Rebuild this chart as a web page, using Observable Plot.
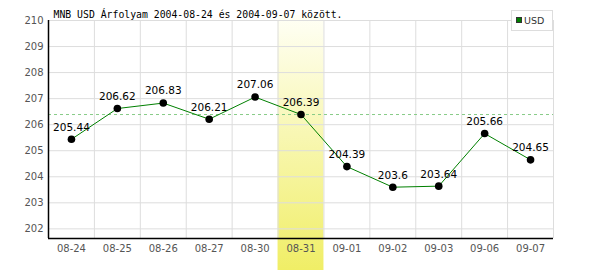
<!DOCTYPE html>
<html>
<head>
<meta charset="utf-8">
<script src="https://cdn.jsdelivr.net/npm/d3@7"></script>
<script src="https://cdn.jsdelivr.net/npm/@observablehq/plot@0.6"></script>
<style>
  html, body { margin: 0; padding: 0; background: #fff; }
  #chart { position: relative; width: 600px; height: 270px; }
</style>
</head>
<body>
<div id="chart"></div>
<script>
const dates = ["08-24","08-25","08-26","08-27","08-30","08-31","09-01","09-02","09-03","09-06","09-07"];
const rates = [205.44, 206.62, 206.83, 206.21, 207.06, 206.39, 204.39, 203.6, 203.64, 205.66, 204.65];
const yTicks = [202, 203, 204, 205, 206, 207, 208, 209, 210];
const highlightDate = "08-31";
const titleText = "MNB USD Árfolyam 2004-08-24 és 2004-09-07 között.";
const seriesName = "USD";

const data = dates.map((d, i) => ({i, d, v: rates[i]}));
const hi = dates.indexOf(highlightDate);
const yMin = 201.63, yMax = 210.0;

const plot = Plot.plot({
  width: 600,
  height: 270,
  marginLeft: 48,
  marginRight: 47,
  marginTop: 20,
  marginBottom: 32,
  style: {fontFamily: "'DejaVu Sans', Verdana, sans-serif", fontSize: "10px", background: "#fff", overflow: "visible"},
  x: {type: "linear", domain: [-0.5, dates.length - 0.5]},
  y: {domain: [yMin, yMax]},
  marks: [
    Plot.rect([hi], {x1: d => d - 0.5, x2: d => d + 0.5, y1: 200.4, y2: 210.19, fill: "url(#hlgrad)", clip: false}),
    Plot.gridY(yTicks, {stroke: "#dddddd", strokeOpacity: 1}),
    Plot.ruleX(d3.range(dates.length).map(i => i + 0.5), {stroke: "#dddddd", strokeWidth: 1}),
    Plot.ruleY([rates[hi]], {stroke: "#88cc88", strokeDasharray: "3,3"}),
    Plot.line(data, {x: "i", y: "v", stroke: "#008000", strokeWidth: 1}),
    Plot.dot(data, {x: "i", y: "v", r: 3.8, fill: "#000", stroke: "none"}),
    Plot.text(data, {x: "i", y: "v", text: d => String(d.v), dy: -12, fill: "#000", fontSize: 10.5}),
    Plot.ruleX([-0.5], {stroke: "#000", strokeWidth: 1.5}),
    Plot.ruleY([yMin], {stroke: "#000", strokeWidth: 1.5}),
    Plot.axisY(yTicks, {tickSize: 0, tickPadding: 5, fill: "#555", label: null, fontSize: 10}),
    Plot.axisX(d3.range(dates.length), {tickSize: 0, tickPadding: 6, tickFormat: i => dates[i], fill: "#555", label: null, fontSize: 10}),
    Plot.text([titleText], {frameAnchor: "top-left", text: d => d, dx: 5, dy: -3, lineAnchor: "bottom", textAnchor: "start",
      fontFamily: "'DejaVu Sans Mono', monospace", fontSize: 9.8, fill: "#000"})
  ]
});

document.getElementById("chart").appendChild(plot);

const svg = d3.select(plot);
const defs = svg.insert("defs", ":first-child");
const grad = defs.append("linearGradient").attr("id", "hlgrad").attr("x1", 0).attr("y1", 0).attr("x2", 0).attr("y2", 1);
grad.append("stop").attr("offset", "0%").attr("stop-color", "#fffff6");
grad.append("stop").attr("offset", "100%").attr("stop-color", "#f0ee66");

const lg = svg.append("g");
lg.append("rect").attr("x", 511.5).attr("y", 10.5).attr("width", 41).attr("height", 20)
  .attr("fill", "#fff").attr("stroke", "#dddddd");
lg.append("rect").attr("x", 516.5).attr("y", 17.5).attr("width", 5).attr("height", 5)
  .attr("fill", "#008000").attr("stroke", "#333");
lg.append("text").attr("x", 524).attr("y", 24).text(seriesName).attr("text-anchor", "start")
  .attr("font-family", "'DejaVu Sans', sans-serif").attr("font-size", 9.5).attr("fill", "#333");
</script>
</body>
</html>
